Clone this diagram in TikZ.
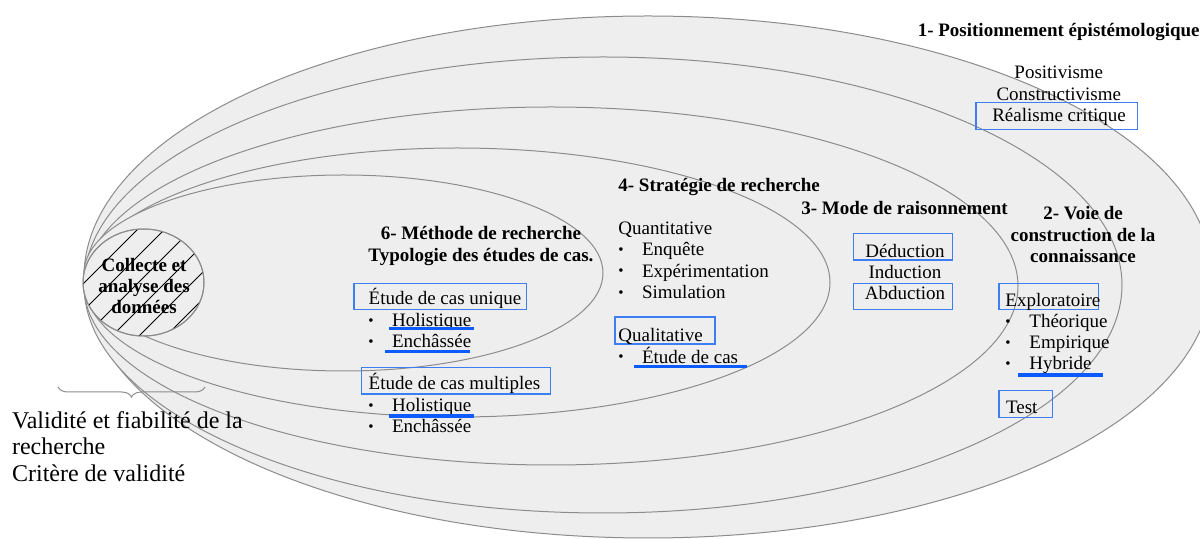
\documentclass[tikz,border=0pt]{standalone}
\usepackage{fontspec}
\setmainfont{Liberation Serif}
\usepackage{tikz}
\usetikzlibrary{decorations.pathreplacing}
\definecolor{ringgray}{HTML}{8C8C8C}
\definecolor{ringfill}{HTML}{EEEEEE}
\definecolor{boxblue}{HTML}{3C7FF2}
\definecolor{markblue}{HTML}{0A5CFF}
\tikzset{
    %Define style for the nested ellipses
    ring/.style={
           draw=ringgray,
           fill=ringfill,
           line width=0.5pt},
    %Define style for plain text
    txt/.style={
           inner sep=0pt,
           anchor=base west,
           font=\fontsize{9.5}{10.65}\selectfont},
    ctxt/.style={
           txt,
           anchor=base},
    dot/.style={
           inner sep=0pt,
           anchor=base,
           font=\fontsize{7.5}{7.5}\selectfont},
    ttl/.style={
           inner sep=0pt,
           anchor=base,
           font=\fontsize{9.5}{10.65}\selectfont\bfseries},
    bigtxt/.style={
           inner sep=0pt,
           anchor=base west,
           font=\fontsize{12}{13.35}\selectfont},
    %Define style for boxes
    boxed/.style={
           rectangle,
           draw=boxblue,
           line width=0.75pt,
           inner sep=0pt},
    % Define underline style
    hilite/.style={
           draw=markblue,
           line width=1.6pt},
    hatch/.style={
           draw=black,
           line width=0.5pt},
    brc/.style={
           draw=ringgray,
           line width=0.5pt,
           decorate,
           decoration={brace, mirror, amplitude=5pt}}
}
\begin{document}
\begin{tikzpicture}[x=0.5pt,y=-0.5pt]
\useasboundingbox (0,0) rectangle (1200,539);
% ellipses, outer to inner
\draw[ring] (648,277) ellipse [x radius=564, y radius=261];
\draw[ring] (603,285) ellipse [x radius=519, y radius=228];
\draw[ring] (551,286) ellipse [x radius=467, y radius=179];
\draw[ring] (457,282.5) ellipse [x radius=373, y radius=134.5];
\draw[ring] (343.5,273) ellipse [x radius=259.5, y radius=98];
\draw[ring] (143.5,282.5) ellipse [x radius=60.5, y radius=53.5];
\begin{scope}
\clip (143.5,282.5) ellipse [x radius=60.5, y radius=53.5];
\foreach \k in {367,394,...,502}
    \draw[hatch] (\k-215,215) -- (\k-350,350);
\end{scope}
\draw[draw=ringgray, line width=0.5pt] (143.5,282.5) ellipse [x radius=60.5, y radius=53.5];
\foreach \t [count=\i] in {Collecte et, analyse des, données}
    \node[ttl] (c\i) at (144,250.9+20.8*\i) {\t};

% 1- positionnement
\node[ttl] (p0) at (1058.7,36.7) {1- Positionnement épistémologique};
\node[ctxt] (p1) at (1058.8,79) {Positivisme};
\node[ctxt] (p2) at (1058.8,100.7) {Constructivisme};
\node[boxed, minimum width=80.7pt, minimum height=13.3pt] (bp3) at (1056.7,116) {};
\node[ctxt] (p3) at (1059,121.7) {Réalisme critique};

% 2- voie de construction
\foreach \t [count=\i] in {2- Voie de, construction de la, connaissance}
    \node[ttl] (v\i) at (1083,198.5+21.5*\i) {\t};
\node[boxed, minimum width=49.7pt, minimum height=13pt] (bv4) at (1048.7,296.3) {};
\node[txt] (v4) at (1005,306.7) {Exploratoire};
\foreach \t [count=\i] in {Théorique, Empirique, Hybride}{
    \node[dot] (vb\i) at (1008,305.3+21.1*\i) {\textbullet};
    \node[txt] (vi\i) at (1029,306.7+21.1*\i) {\t};
}
\node[boxed, minimum width=26.7pt, minimum height=13.3pt] (bv5) at (1025.7,404) {};
\node[txt] (v5) at (1005.7,413.3) {Test};

% 3- mode de raisonnement
\node[ttl, anchor=base west] (r0) at (801,214.3) {3- Mode de raisonnement};
\node[boxed, minimum width=49.7pt, minimum height=13.3pt] (br1) at (903,246.7) {};
\node[ctxt] (r1) at (905,257.7) {Déduction};
\node[ctxt] (r2) at (905,278.3) {Induction};
\node[boxed, minimum width=49.7pt, minimum height=13pt] (br3) at (903,296.3) {};
\node[ctxt] (r3) at (905,300) {Abduction};

% 4- strategie
\node[ttl, anchor=base west] (s0) at (618,191.7) {4- Stratégie de recherche};
\node[txt] (s1) at (618,234.7) {Quantitative};
\foreach \t [count=\i] in {Enquête, Expérimentation, Simulation}{
    \node[dot] (sb\i) at (621,233.3+21.3*\i) {\textbullet};
    \node[txt] (si\i) at (641.7,234.7+21.3*\i) {\t};
}
\node[boxed, minimum width=50pt, minimum height=13.5pt] (bs2) at (665,330.5) {};
\node[txt] (s2) at (618,341.7) {Qualitative};
\node[dot] (sb4) at (621,361.9) {\textbullet};
\node[txt] (si4) at (641.7,363.3) {Étude de cas};

% 6- methode
\node[ttl] (m1) at (481,240) {6- Méthode de recherche};
\node[ttl] (m2) at (481,261.3) {Typologie des études de cas.};
\node[boxed, minimum width=86.3pt, minimum height=13pt] (bm3) at (440.3,296.3) {};
\node[txt] (m3) at (368.3,305) {Étude de cas unique};
\foreach \t [count=\i] in {Holistique, Enchâssée}{
    \node[dot] (mb\i) at (371,304.3+21*\i) {\textbullet};
    \node[txt] (mi\i) at (391.7,305.7+21*\i) {\t};
}
\node[boxed, minimum width=94.5pt, minimum height=13.3pt] (bm4) at (456.2,380.7) {};
\node[txt] (m4) at (368.3,390) {Étude de cas multiples};
\foreach \t [count=\i] in {Holistique, Enchâssée}{
    \node[dot] (mc\i) at (371,389.3+21*\i) {\textbullet};
    \node[txt] (mj\i) at (391.7,390.7+21*\i) {\t};
}

% underlines
\draw[hilite] ([shift={(-2.7,1.6)}]mi1.base west) -- ([shift={(2.4,1.6)}]mi1.base east);
\draw[hilite] ([shift={(-7,4)}]mi2.base west) -- ([shift={(-1.7,4)}]mi2.base east);
\draw[hilite] ([shift={(-2.7,4.3)}]mj1.base west) -- ([shift={(2.4,4.3)}]mj1.base east);
\draw[hilite] ([shift={(-7.7,3.4)}]si4.base west) -- ([shift={(8.3,3.4)}]si4.base east);
\draw[hilite] ([shift={(-10.7,5)}]vi3.base west) -- ([shift={(11,5)}]vi3.base east);

% validite
\coordinate (bl) at (58,387);
\coordinate (br) at (205,387);
\draw[brc] (bl) -- (br);
\foreach \t [count=\i] in {Validité et fiabilité de la, recherche, Critère de validité}
    \node[bigtxt] (f\i) at (11.7,401.6+26.7*\i) {\t};
\end{tikzpicture}
\end{document}
